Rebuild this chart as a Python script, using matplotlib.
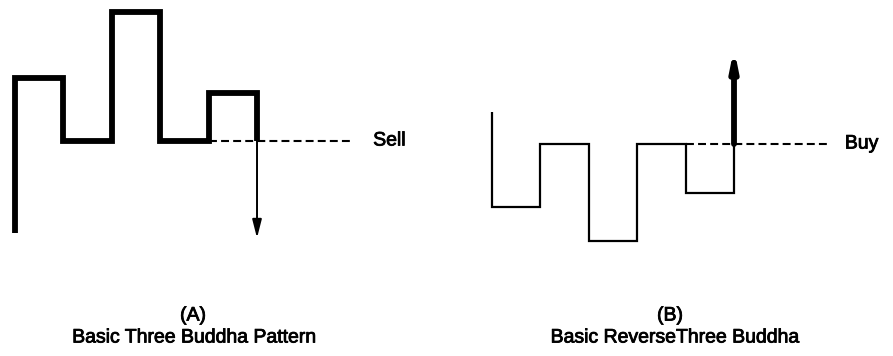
import matplotlib
matplotlib.use("Agg")
import matplotlib.pyplot as plt
import matplotlib.patheffects as pe

plt.rcParams['font.family'] = ['Liberation Sans', 'DejaVu Sans']

# ---- data (price units) ----
A_start = 6.7
A_levels = [22.2, 15.9, 28.8, 15.9, 20.7]
A_end = 15.9
A_signal_level = 15.9
A_arrow_end = 6.2
A_label = "Sell"
A_title = ["(A)", "Basic Three Buddha Pattern"]

B_start = 18.8
B_levels = [9.3, 15.6, 5.9, 15.6, 10.7]
B_end = 15.6
B_signal_level = 15.6
B_arrow_end = 25.2
B_label = "Buy"
B_title = ["(B)", "Basic ReverseThree Buddha"]

dash_start = 4
dash_end = 7


def step_path(start, levels, end):
    xs, ys = [0], [start]
    for i, lv in enumerate(levels):
        xs += [i, i + 1]
        ys += [lv, lv]
    xs.append(len(levels))
    ys.append(end)
    return xs, ys


fig = plt.figure(figsize=(8.93, 3.56), dpi=100)
axA = fig.add_axes([0, 0, 0.5, 1])
axB = fig.add_axes([0.5, 0, 0.5, 1])
axA.set_xlim(-0.31, 8.915)
axB.set_xlim(-0.94, 8.285)
for ax in (axA, axB):
    ax.set_ylim(-5.6, 30)
    ax.axis('off')

txt_kw = dict(fontsize=14, color='black',
              path_effects=[pe.withStroke(linewidth=0.6, foreground='black')])

# Chart A
xs, ys = step_path(A_start, A_levels, A_end)
axA.plot(xs, ys, color='black', lw=4.2, solid_joinstyle='miter', solid_capstyle='butt')
axA.plot([dash_start, dash_end], [A_signal_level, A_signal_level], color='black',
         lw=1.5, dashes=(3.8, 2.0))
nA = len(A_levels)
axA.annotate('', xy=(nA, A_arrow_end), xytext=(nA, A_signal_level),
             arrowprops=dict(arrowstyle='-|>,head_length=1.1,head_width=0.28',
                             mutation_scale=10, lw=1.4, color='black',
                             shrinkA=0, shrinkB=0))
axA.text(7.40, A_signal_level, A_label, ha='left', va='center', **txt_kw)
axA.text(3.68, -1.6, A_title[0], ha='center', va='center', **txt_kw)
axA.text(3.72, -3.8, A_title[1], ha='center', va='center', **txt_kw)

# Chart B
xs, ys = step_path(B_start, B_levels, B_end)
axB.plot(xs, ys, color='black', lw=1.6, solid_joinstyle='miter', solid_capstyle='butt')
axB.plot([dash_start, dash_end], [B_signal_level, B_signal_level], color='black',
         lw=1.5, dashes=(3.8, 2.0))
nB = len(B_levels)
axB.annotate('', xy=(nB, B_arrow_end), xytext=(nB, B_signal_level),
             arrowprops=dict(arrowstyle='-|>,head_length=1.0,head_width=0.2',
                             mutation_scale=10, lw=4.2, color='black',
                             shrinkA=0, shrinkB=0))
axB.text(7.29, B_signal_level, B_label, ha='left', va='center', **txt_kw)
axB.text(3.68, -1.6, B_title[0], ha='center', va='center', **txt_kw)
axB.text(3.80, -3.8, B_title[1], ha='center', va='center', **txt_kw)

fig.savefig('out.png', dpi=100, facecolor='white')
